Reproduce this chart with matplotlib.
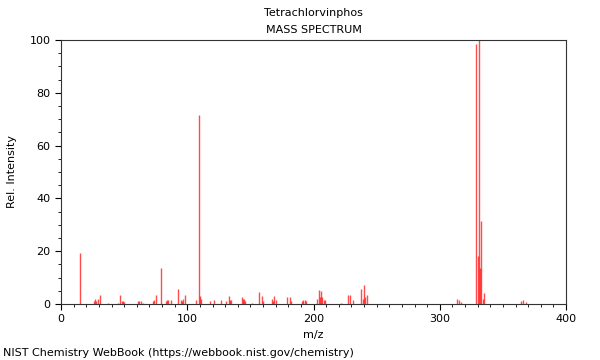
import matplotlib
matplotlib.use('Agg')
import matplotlib.pyplot as plt
from matplotlib.ticker import MultipleLocator

# m/z values and relative intensities
mz = [15, 26, 27, 28, 29, 31, 37, 45, 47, 48, 49, 50,
      61, 62, 63, 65, 73, 74, 75, 79, 83, 84, 85, 87,
      93, 95, 96, 97, 98, 107, 109, 110, 111, 118, 121, 127,
      131, 133, 134, 135, 143, 144, 145, 146, 151, 157, 159, 160,
      167, 168, 169, 170, 179, 181, 182, 191, 192, 193, 194,
      203, 204, 205, 206, 207, 208, 209, 222, 227, 229, 231,
      238, 239, 240, 241, 242, 314, 315, 317,
      329, 330, 331, 332, 333, 334, 335, 364, 366, 368]
intensity = [19.5, 1.0, 2.0, 1.0, 2.0, 3.3, 0.5, 0.5, 3.4, 1.0, 1.0, 0.8,
             1.1, 1.1, 1.0, 0.5, 1.0, 1.5, 3.5, 13.5, 1.0, 1.5, 1.5, 1.5,
             5.7, 1.5, 1.0, 2.0, 3.4, 1.5, 71.5, 3.0, 2.0, 1.0, 1.5, 1.5,
             1.0, 3.1, 1.5, 1.5, 2.8, 2.0, 2.0, 1.0, 0.5, 4.4, 3.0, 1.0,
             2.0, 1.0, 3.1, 1.5, 2.8, 2.8, 1.0, 1.0, 1.5, 1.5, 1.0,
             2.0, 5.3, 2.5, 5.0, 2.5, 1.5, 1.5, 0.5, 3.4, 3.5, 1.5,
             5.6, 2.0, 7.1, 2.5, 3.4, 1.8, 1.5, 0.8,
             98.5, 18.0, 100.0, 13.5, 31.5, 2.0, 4.3, 1.0, 1.5, 0.8]

fig = plt.figure(figsize=(6, 3.6), dpi=100)
ax = fig.add_axes([61 / 600, 1 - 304 / 360, 505 / 600, 264 / 360])

ax.vlines(mz, 0, intensity, color='red', linewidth=1.0, alpha=0.7)

ax.set_xlim(0, 400)
ax.set_ylim(0, 100)
ax.xaxis.set_major_locator(MultipleLocator(100))
ax.xaxis.set_minor_locator(MultipleLocator(10))
ax.yaxis.set_major_locator(MultipleLocator(20))
ax.yaxis.set_minor_locator(MultipleLocator(5))
ax.tick_params(which='major', length=4, width=0.8, labelsize=8, direction='out')
ax.tick_params(which='minor', length=2, width=0.6, direction='out')
for s in ax.spines.values():
    s.set_color('#333333')
    s.set_linewidth(0.8)

ax.set_xlabel('m/z', fontsize=8, labelpad=4)
ax.set_ylabel('Rel. Intensity', fontsize=8, labelpad=9)

fig.text(313.5 / 600, 1 - 13 / 360, 'Tetrachlorvinphos', ha='center', va='center', fontsize=8)
fig.text(313.5 / 600, 1 - 30 / 360, 'MASS SPECTRUM', ha='center', va='center', fontsize=8)
fig.text(3 / 600, 1 - 353 / 360, 'NIST Chemistry WebBook (https://webbook.nist.gov/chemistry)',
         ha='left', va='center', fontsize=8)

fig.savefig('out.png', dpi=100)
